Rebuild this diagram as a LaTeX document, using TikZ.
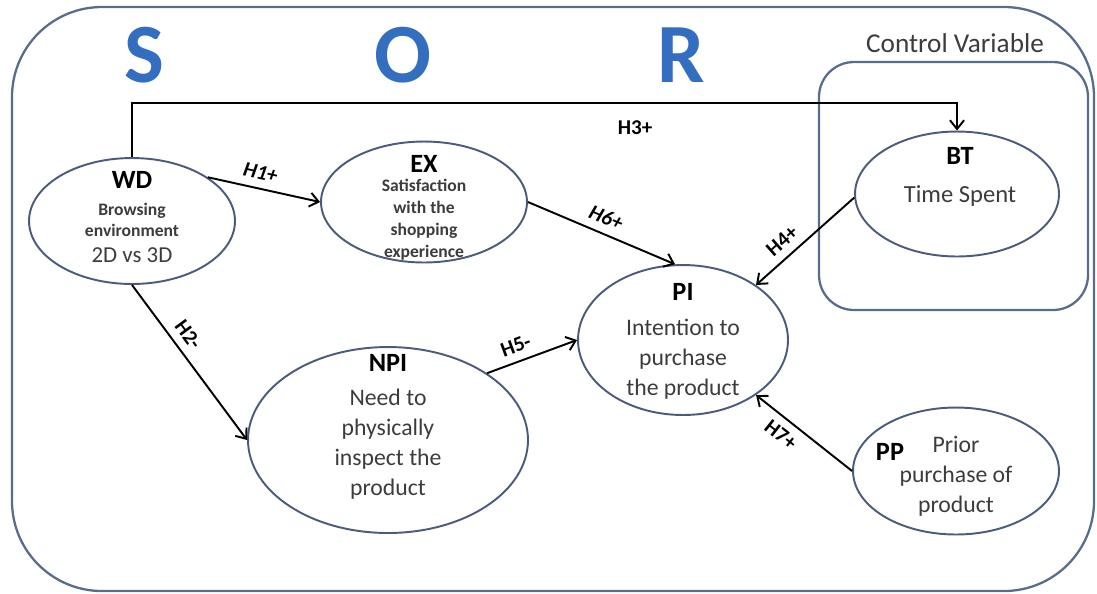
\documentclass[tikz,border=0pt]{standalone}
\usepackage{fontspec}
\setmainfont{Carlito}
\usepackage{xcolor}
\usepackage{tikz}
\usetikzlibrary{arrows.meta, positioning, shapes.geometric}

\definecolor{sorblue}{HTML}{346EC0}
\definecolor{framecol}{HTML}{5A6C8C}
\definecolor{ringcol}{HTML}{4B5B7C}
\definecolor{txtgray}{HTML}{3C3C3C}
\newcommand{\setfs}[2]{\fontsize{#1}{#2}\selectfont}

\begin{document}
\begin{tikzpicture}[x=0.02cm, y=-0.02cm,
    var/.style={draw=ringcol, line width=1.1pt, ellipse, inner sep=0pt},
    body/.style={align=center, text=txtgray, inner sep=0pt},
    arr/.style={-{Straight Barb[length=5pt,width=8pt]}, line width=1.1pt},
    hyp/.style={font=\setfs{12}{14}\bfseries, inner sep=4.5pt},
    hypit/.style={font=\setfs{12}{14}\bfseries\itshape, inner sep=4.5pt},
    letter/.style={font=\setfs{48}{50}\bfseries, text=sorblue}]

\useasboundingbox (0,0) rectangle (1097,593);
\draw[framecol, line width=1.3pt, rounded corners=1.8cm] (12,7) rectangle (1094,591);
\draw[framecol, line width=1.3pt, rounded corners=0.7cm] (819,62) rectangle (1088,310);

\node (S) [letter] at (144,55) {S};
\node (O) [letter] at (403,55) {O};
\node (R) [letter] at (681,55) {R};
\node (ctrl) [text=txtgray, font=\setfs{15.5}{18}] at (955,43) {Control Variable};

% constructs
\node (wd) [var, minimum width=4.12cm, minimum height=2.52cm] at (132,221) {};
\node (ex) [var, minimum width=4.12cm, minimum height=2.42cm] at (424,202) {};
\node (bt) [var, minimum width=4.08cm, minimum height=2.5cm] at (957,194) {};
\node (pi) [var, minimum width=4.2cm, minimum height=3cm] at (683,340) {};
\node (npi) [var, minimum width=5.6cm, minimum height=3.72cm] at (388,440) {};
\node (pp) [var, minimum width=4.12cm, minimum height=2.54cm] at (956,471) {};

\node (wdtext) [body, font=\setfs{13}{14}] at (132,217) {%
    {\setfs{15}{15}\bfseries\color{black}WD}\\[1.3pt]
    {\setfs{10}{11}\bfseries Browsing}\\[-1.5pt]
    {\setfs{10}{11}\bfseries environment}\\[0.7pt]
    2D vs 3D};
\node (extext) [body, font=\setfs{10}{12.5}\bfseries] at (424,208) {%
    {\setfs{15}{15}\color{black}EX}\\[-1.5pt]
    Satisfaction\\ with the\\ shopping\\ experience};
\node (bttext) [body, font=\setfs{14}{22}] at (960,177) {%
    {\setfs{15}{15}\bfseries\color{black}BT}\\
    Time Spent};
\node (pitext) [body, font=\setfs{13.5}{17}] at (683,341) {%
    {\setfs{15}{15}\bfseries\color{black}PI}\\[3pt]
    Intention to\\ purchase\\ the product};
\node (npitext) [body, font=\setfs{13.5}{17}] at (388,427) {%
    {\setfs{15}{15}\bfseries\color{black}NPI}\\[2.3pt]
    Need to\\ physically\\ inspect the\\ product};
\node (pptext) [body, font=\setfs{13.5}{17}] at (956,476) {%
    Prior\\ purchase of\\ product};
\node (pptitle) [font=\setfs{15}{15}\bfseries, inner sep=0pt] at (890,452) {PP};

% hypotheses
\coordinate (h3corner) at (500,103);
\draw[arr] (wd.north) |- (h3corner) -| (bt.north);
\node (h3) [hyp] at (635,128) {H3+};
\draw[arr] (wd.30) -- node[hypit, above, sloped, pos=0.44] (h1) {H1+} (ex.west);
\draw[arr] (wd.south) -- node[hyp, above, sloped, pos=0.38] (h2) {H2-} (npi.west);
\draw[arr] (npi.34) -- node[hyp, above, sloped, pos=0.38] (h5) {H5-} (pi.west);
\draw[arr] (ex.east) -- node[hypit, above, sloped, pos=0.49] (h6) {H6+} (pi.96);
\draw[arr] (bt.182) -- node[hyp, above, sloped, pos=0.63] (h4) {H4+} (pi.37);
\draw[arr] (pp.west) -- node[hyp, below, sloped, pos=0.64] (h7) {H7+} (pi.-37);
\end{tikzpicture}
\end{document}
